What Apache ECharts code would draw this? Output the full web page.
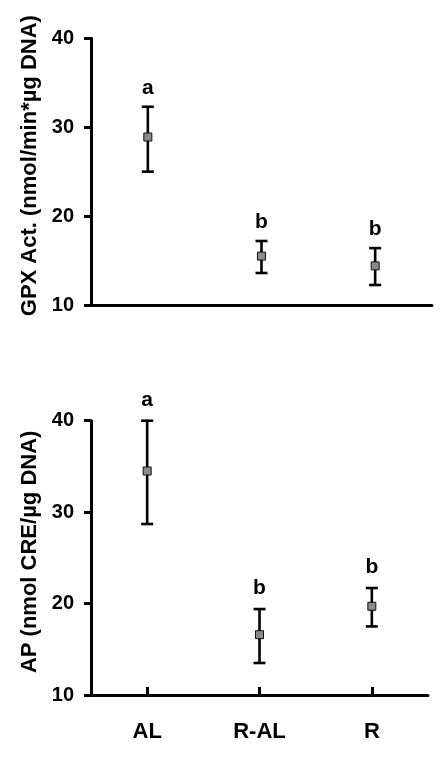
<!DOCTYPE html>
<html>
<head>
<meta charset="utf-8">
<script src="https://cdn.jsdelivr.net/npm/echarts@6/dist/echarts.min.js"></script>
<style>
html,body{margin:0;padding:0;background:#fff;}
#c{width:440px;height:758px;}
</style>
</head>
<body>
<div id="c"></div>
<script>
var categories = ['AL', 'R-AL', 'R'];
var gpxMean = [28.9, 15.5, 14.4];
var gpxUpper = [32.3, 17.2, 16.4];
var gpxLower = [25.0, 13.6, 12.25];
var gpxLetters = ['a', 'b', 'b'];
var apMean = [34.5, 16.6, 19.7];
var apUpper = [40.0, 19.4, 21.7];
var apLower = [28.7, 13.5, 17.5];
var apLetters = ['a', 'b', 'b'];
var yMin = 10, yMax = 40, yStep = 10;
var gpxName = 'GPX Act. (nmol/min*\u00b5g DNA)';
var apName = 'AP (nmol CRE/\u00b5g DNA)';

var FONT = "'Liberation Sans', Arial, sans-serif";

function errData(mean, up, lo, letters) {
  return mean.map(function (m, i) { return [i, m, up[i], lo[i], letters[i]]; });
}

function makeRender(letterGap) {
  return function (params, api) {
    var x = api.value(0);
    var pu = api.coord([x, api.value(2)]);
    var pl = api.coord([x, api.value(3)]);
    var hw = 6;
    var st = { stroke: '#000', lineWidth: 2.6 };
    return {
      type: 'group',
      children: [
        { type: 'line', shape: { x1: pu[0], y1: pu[1], x2: pl[0], y2: pl[1] }, style: st },
        { type: 'line', shape: { x1: pu[0] - hw, y1: pu[1], x2: pu[0] + hw, y2: pu[1] }, style: st },
        { type: 'line', shape: { x1: pl[0] - hw, y1: pl[1], x2: pl[0] + hw, y2: pl[1] }, style: st },
        { type: 'text', x: pu[0], y: pu[1] - letterGap,
          style: { text: api.value(4), fill: '#000', font: 'bold 21px ' + FONT, textAlign: 'center', textVerticalAlign: 'bottom' } }
      ]
    };
  };
}

function yAxisCfg(grid, name) {
  return {
    type: 'value', gridIndex: grid, min: yMin, max: yMax, interval: yStep,
    name: name, nameLocation: 'middle', nameGap: 49,
    nameTextStyle: { fontFamily: FONT, fontWeight: 'bold', fontSize: 22, color: '#000', padding: [0, 0, 0, 12] },
    axisLine: { show: true, lineStyle: { color: '#000', width: 3 } },
    axisTick: { show: true, inside: false, length: 7, lineStyle: { color: '#000', width: 3 } },
    axisLabel: { fontFamily: FONT, fontWeight: 'bold', fontSize: 20, color: '#000', margin: 17 },
    splitLine: { show: false }
  };
}

var chart = echarts.init(document.getElementById('c'), null, { renderer: 'canvas' });
chart.setOption({
  animation: false,
  backgroundColor: '#fff',
  grid: [
    { left: 91, right: 8, top: 38.3, height: 266.7 },
    { left: 91, right: 12, top: 420.7, height: 274.3 }
  ],
  xAxis: [
    { type: 'category', gridIndex: 0, position: 'bottom', data: categories,
      axisLine: { show: true, onZero: false, lineStyle: { color: '#000', width: 3 } },
      axisTick: { show: false }, axisLabel: { show: false }, splitLine: { show: false } },
    { type: 'category', gridIndex: 1, position: 'bottom', data: categories,
      axisLine: { show: true, onZero: false, lineStyle: { color: '#000', width: 3 } },
      axisTick: { show: true, inside: true, alignWithLabel: true, length: 8, lineStyle: { color: '#000', width: 3 } },
      axisLabel: { fontFamily: FONT, fontWeight: 'bold', fontSize: 22, color: '#000', margin: 26 },
      splitLine: { show: false } },
    { type: 'category', gridIndex: 1, position: 'bottom', offset: 0, data: categories,
      axisLine: { show: false, onZero: false },
      axisTick: { show: true, inside: false, alignWithLabel: true, length: 2, lineStyle: { color: '#000', width: 3 } },
      axisLabel: { show: false }, splitLine: { show: false } }
  ],
  yAxis: [ yAxisCfg(0, gpxName), yAxisCfg(1, apName) ],
  series: [
    { type: 'custom', xAxisIndex: 0, yAxisIndex: 0, renderItem: makeRender(8),
      data: errData(gpxMean, gpxUpper, gpxLower, gpxLetters), z: 2 },
    { type: 'scatter', xAxisIndex: 0, yAxisIndex: 0, symbol: 'rect', symbolSize: 8,
      itemStyle: { color: '#8a8a8a', borderColor: '#111', borderWidth: 1, opacity: 1 },
      data: gpxMean, z: 3 },
    { type: 'custom', xAxisIndex: 1, yAxisIndex: 1, renderItem: makeRender(10),
      data: errData(apMean, apUpper, apLower, apLetters), z: 2 },
    { type: 'scatter', xAxisIndex: 1, yAxisIndex: 1, symbol: 'rect', symbolSize: 8,
      itemStyle: { color: '#8a8a8a', borderColor: '#111', borderWidth: 1, opacity: 1 },
      data: apMean, z: 3 }
  ]
});
</script>
</body>
</html>
